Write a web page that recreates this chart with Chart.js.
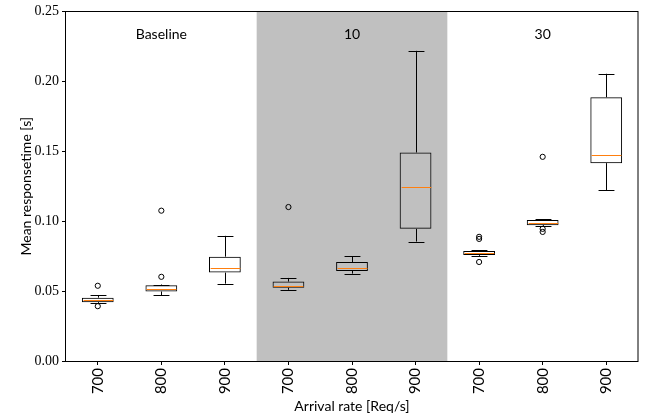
<!DOCTYPE html>
<html><head><meta charset="utf-8">
<script src="https://cdn.jsdelivr.net/npm/chart.js@4/dist/chart.umd.min.js"></script>
<style>html,body{margin:0;padding:0;background:#fff}#wrap{width:649px;height:419px;position:relative}</style>
</head><body><div id="wrap"><canvas id="c" width="649" height="419"></canvas></div>
<script>
const groupLabels = ["Baseline", "10", "30"];
const categories = ["700", "800", "900", "700", "800", "900", "700", "800", "900"];
const whiskerLow  = [0.0415, 0.0469, 0.0553, 0.0509, 0.0625, 0.0854, 0.0752, 0.0965, 0.1222];
const q1          = [0.0421, 0.0497, 0.0632, 0.0523, 0.0644, 0.0945, 0.0758, 0.0971, 0.1415];
const median      = [0.0437, 0.0518, 0.0665, 0.0535, 0.0665, 0.1243, 0.0770, 0.0988, 0.1472];
const q3          = [0.0453, 0.0542, 0.0746, 0.0568, 0.0708, 0.1491, 0.0786, 0.1009, 0.1886];
const whiskerHigh = [0.0472, 0.0547, 0.0895, 0.0594, 0.0748, 0.2218, 0.0792, 0.1015, 0.2054];
const outliers = [[0.0538, 0.0392], [0.0602, 0.1075], [], [0.1101], [], [], [0.0708, 0.0873, 0.0888], [0.0923, 0.0945, 0.1460], []];
const yTicks = [0, 0.05, 0.10, 0.15, 0.20, 0.25];
const shadedGroup = 1;

const maxOut = Math.max(...outliers.map(o => o.length));
const outlierDatasets = [];
for (let k = 0; k < maxOut; k++) {
  outlierDatasets.push({
    type: 'line', data: outliers.map(o => (o[k] === undefined ? null : o[k])),
    showLine: false, pointRadius: 2.6, pointBorderColor: '#000', pointBorderWidth: 1,
    pointBackgroundColor: 'rgba(0,0,0,0)', pointHoverRadius: 2.6, order: 0
  });
}

const boxPlugin = {
  id: 'boxParts',
  beforeDatasetsDraw(chart) {
    const {ctx, chartArea, scales: {x}} = chart;
    const g0 = shadedGroup * 3;
    const left = (x.getPixelForValue(g0 - 1) + x.getPixelForValue(g0)) / 2;
    const right = (x.getPixelForValue(g0 + 2) + x.getPixelForValue(g0 + 3)) / 2;
    ctx.save();
    ctx.fillStyle = '#c0c0c0';
    ctx.fillRect(left, chartArea.top, right - left, chartArea.bottom - chartArea.top);
    ctx.fillStyle = '#000';
    ctx.font = '14px Lato';
    ctx.textAlign = 'center';
    ctx.textBaseline = 'middle';
    const y = chart.scales.y;
    groupLabels.forEach((g, i) => {
      ctx.fillText(g, x.getPixelForValue(i * 3 + 1), y.getPixelForValue(0.2337));
    });
    ctx.restore();
  },
  afterDatasetsDraw(chart) {
    const {ctx, scales: {x, y}} = chart;
    const meta = chart.getDatasetMeta(0);
    ctx.save();
    ctx.lineWidth = 1;
    categories.forEach((c, i) => {
      const cx = Math.round(x.getPixelForValue(i)) + 0.5;
      const bw = meta.data[i].width;
      const cap = bw / 4;
      ctx.strokeStyle = '#000';
      ctx.beginPath();
      ctx.moveTo(cx, y.getPixelForValue(q1[i]));
      ctx.lineTo(cx, y.getPixelForValue(whiskerLow[i]));
      ctx.moveTo(cx, y.getPixelForValue(q3[i]));
      ctx.lineTo(cx, y.getPixelForValue(whiskerHigh[i]));
      const yl = Math.round(y.getPixelForValue(whiskerLow[i])) + 0.5;
      const yh = Math.round(y.getPixelForValue(whiskerHigh[i])) + 0.5;
      ctx.moveTo(cx - cap, yl); ctx.lineTo(cx + cap, yl);
      ctx.moveTo(cx - cap, yh); ctx.lineTo(cx + cap, yh);
      ctx.stroke();
      ctx.strokeStyle = '#ff7f0e';
      const ym = Math.round(y.getPixelForValue(median[i])) + 0.5;
      ctx.beginPath();
      ctx.moveTo(cx - bw / 2 + 1, ym); ctx.lineTo(cx + bw / 2 - 1, ym);
      ctx.stroke();
    });
    ctx.restore();
  },
  afterDraw(chart) {
    const {ctx, chartArea: a} = chart;
    ctx.save();
    ctx.strokeStyle = '#000';
    ctx.lineWidth = 1;
    ctx.strokeRect(Math.round(a.left) - 0.5, Math.round(a.top) + 0.5, Math.round(a.right - a.left) + 0.5, Math.round(a.bottom - a.top));
    ctx.restore();
  }
};

new Chart(document.getElementById('c'), {
  type: 'bar',
  data: {
    labels: categories,
    datasets: [{
      data: categories.map((c, i) => [q1[i], q3[i]]),
      backgroundColor: 'rgba(0,0,0,0)', borderColor: '#000', borderWidth: 1,
      borderSkipped: false, barPercentage: 0.5, categoryPercentage: 1.0, order: 1
    }, ...outlierDatasets]
  },
  options: {
    responsive: false, animation: false, devicePixelRatio: 1,
    layout: {padding: {left: 0, right: 11, top: 9, bottom: 0}},
    plugins: {legend: {display: false}, tooltip: {enabled: false}},
    scales: {
      x: {
        offset: true,
        grid: {offset: false, drawOnChartArea: false, drawTicks: true, tickLength: 4, color: '#000'},
        border: {display: false},
        ticks: {minRotation: 90, maxRotation: 90, padding: 3, color: '#000', font: {family: 'Lato', size: 15}},
        title: {display: true, text: 'Arrival rate [Req/s]', color: '#000', font: {family: 'Lato', size: 14}, padding: {top: 0, bottom: 4.6}},
        afterFit(s) { s.height = 58; }
      },
      y: {
        min: 0, max: 0.25,
        afterBuildTicks(s) { s.ticks = yTicks.map(v => ({value: v})); },
        grid: {drawOnChartArea: false, drawTicks: true, tickLength: 4, color: '#000'},
        border: {display: false},
        ticks: {padding: 3, color: '#000', font: {family: 'Liberation Serif', size: 14}, callback: v => v.toFixed(2)},
        title: {display: true, text: 'Mean responsetime [s]', color: '#000', font: {family: 'Lato', size: 14}, padding: {top: 18, bottom: 0}},
        afterFit(s) { s.width = 66; }
      }
    }
  },
  plugins: [boxPlugin]
});
</script></body></html>
